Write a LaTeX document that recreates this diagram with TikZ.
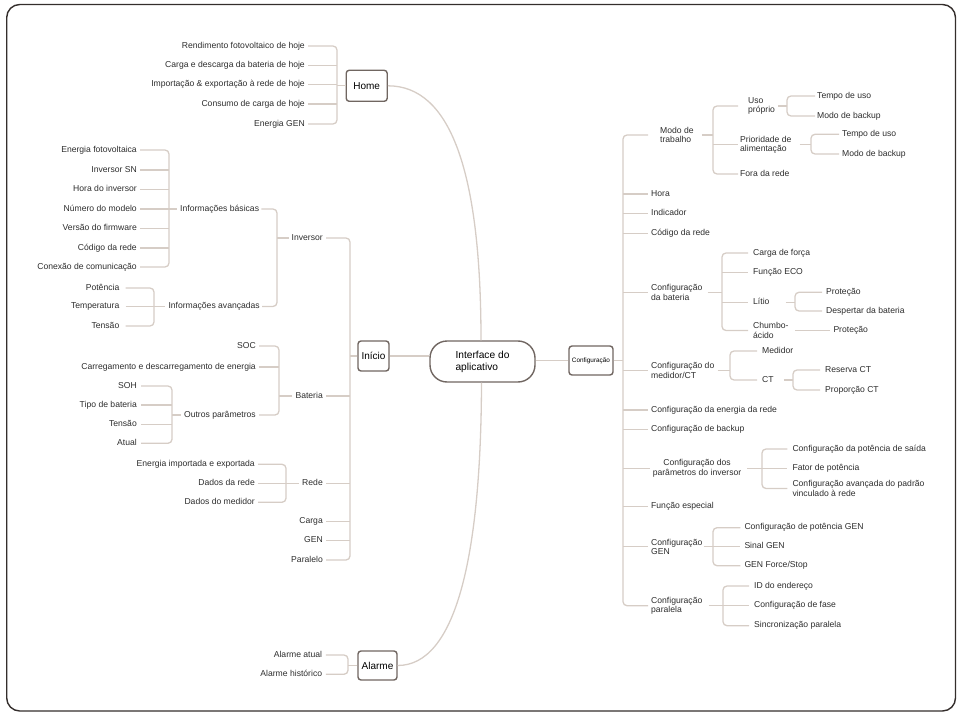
\documentclass[tikz,border=0pt]{standalone}
\usepackage{fontspec}
\setmainfont{Liberation Sans}
\usetikzlibrary{calc}
\definecolor{linec}{RGB}{214,205,198}
\definecolor{boxc}{RGB}{112,102,97}
\definecolor{txtc}{RGB}{45,45,45}
\definecolor{framec}{RGB}{52,46,44}
\newcommand\lblfont{\fontsize{8.6}{9.3}\selectfont}
\newcommand\boxfont{\fontsize{10}{12}\selectfont}
\begin{document}
\begin{tikzpicture}[x=1pt,y=-1pt,
  lblL/.style={anchor=east,inner sep=0pt,font=\lblfont,text=txtc,text height=6.2pt,text depth=1.8pt},
  lblR/.style={anchor=west,inner sep=0pt,font=\lblfont,text=txtc,text height=6.2pt,text depth=1.8pt},
  lblM/.style={anchor=west,inner sep=0pt,font=\lblfont,text=txtc,align=left},
  topbox/.style={draw=boxc,line width=1.4pt,rounded corners=3pt,inner sep=0pt,font=\boxfont,text=black},
  ln/.style={draw=linec,line width=1.3pt,rounded corners=4pt},
  curveln/.style={draw=linec,line width=1.3pt}]

\useasboundingbox (0,0) rectangle (962,717);
\draw[framec,line width=1.4pt,rounded corners=13pt] (6.7,4.5) rectangle (955.5,711);

% ---------- main boxes ----------
\node[topbox,minimum width=41pt,minimum height=31pt] (home) at (366.7,85.8) {Home};
\node[topbox,minimum width=31pt,minimum height=30pt] (ini) at (373.5,356) {Início};
\node[topbox,minimum width=39pt,minimum height=29pt] (alarme) at (377.5,665.5) {Alarme};
\node[draw=boxc,line width=1.4pt,rounded corners=17pt,minimum width=105pt,minimum height=41pt,
      align=left,font=\fontsize{10.2}{12}\selectfont,text=black] (ctr) at (482.5,361.5) {Interface do\\aplicativo};
\node[topbox,minimum width=44pt,minimum height=29pt,font=\fontsize{6.4}{8}\selectfont] (cfg) at (591,360.5) {Configuração};

\draw[curveln] (home.east) .. controls (450,85.8) and (481,170) .. ([xshift=-1.5pt]ctr.north);
\draw[curveln] (alarme.east) .. controls (455,665.5) and (481,560) .. ([xshift=-1pt]ctr.south);
\draw[ln] (ini.east) -- (ini.east -| ctr.west);
\draw[ln] (cfg.west) -- (cfg.west -| ctr.east);

% ---------- Home ----------
\node[lblL] (h1) at (305,46) {Rendimento fotovoltaico de hoje};
\node[lblL] (h2) at (305,65.3) {Carga e descarga da bateria de hoje};
\node[lblL] (h3) at (305,84.7) {Importação \& exportação à rede de hoje};
\node[lblL] (h4) at (305,104) {Consumo de carga de hoje};
\node[lblL] (h5) at (305,124) {Energia GEN};
\coordinate (kH) at (337,0);
\draw[ln] ([xshift=3pt]h1.east) -| (kH |- home.west) |- ([xshift=3pt]h5.east);
\foreach \n in {h2,h3,h4} \draw[ln] ([xshift=3pt]\n.east) -- (\n.east -| kH);
\draw[ln] (home.west) -- (home.west -| kH);

% ---------- Inversor ----------
\node[lblL] (b1) at (137,150) {Energia fotovoltaica};
\node[lblL] (b2) at (137,170) {Inversor SN};
\node[lblL] (b3) at (137,189.5) {Hora do inversor};
\node[lblL] (b4) at (137,209) {Número do modelo};
\node[lblL] (b5) at (137,228.5) {Versão do firmware};
\node[lblL] (b6) at (137,248) {Código da rede};
\node[lblL] (b7) at (137,267) {Conexão de comunicação};
\node[lblR] (ib) at (180,209) {Informações básicas};
\coordinate (kB) at (169,0);
\draw[ln] ([xshift=3pt]b1.east) -| (kB |- ib.west) |- ([xshift=3pt]b7.east);
\foreach \n in {b2,b3,b5,b6} \draw[ln] ([xshift=3pt]\n.east) -- (\n.east -| kB);
\draw[ln] ([xshift=3pt]b4.east) -- ([xshift=-3pt]ib.west);

\node[lblL] (a1) at (119.5,288) {Potência};
\node[lblL] (a2) at (119.5,306.5) {Temperatura};
\node[lblL] (a3) at (119.5,326) {Tensão};
\node[lblR] (ia) at (168.3,306.5) {Informações avançadas};
\coordinate (kA) at (154,0);
\draw[ln] ([xshift=6pt]a1.east) -| (kA |- ia.west) |- ([xshift=6pt]a3.east);
\draw[ln] ([xshift=6pt]a2.east) -- ([xshift=-3pt]ia.west);

\node[lblL] (inv) at (323,238) {Inversor};
\coordinate (kI) at (277,0);
\draw[ln] ([xshift=2pt]ib.east) -| (kI |- inv.west) |- ([xshift=2pt]ia.east);
\draw[ln] ([xshift=-3pt]inv.west) -- (inv.west -| kI);

% ---------- Bateria ----------
\node[lblL] (soc) at (256,346) {SOC};
\node[lblL] (car) at (256,367) {Carregamento e descarregamento de energia};
\node[lblL] (op) at (256,415) {Outros parâmetros};
\node[lblL] (bat) at (323,396) {Bateria};
\coordinate (kBt) at (279,0);
\draw[ln] ([xshift=3pt]soc.east) -| (kBt |- bat.west) |- ([xshift=3pt]op.east);
\draw[ln] ([xshift=3pt]car.east) -- (car.east -| kBt);
\draw[ln] ([xshift=-3pt]bat.west) -- (bat.west -| kBt);

\node[lblL] (soh) at (137,386) {SOH};
\node[lblL] (tb) at (137,405) {Tipo de bateria};
\node[lblL] (ten) at (137,424.3) {Tensão};
\node[lblL] (atu) at (137,443.3) {Atual};
\coordinate (kO) at (172,0);
\draw[ln] ([xshift=4pt]soh.east) -| (kO |- op.west) |- ([xshift=4pt]atu.east);
\foreach \n in {tb,ten} \draw[ln] ([xshift=4pt]\n.east) -- (\n.east -| kO);
\draw[ln] ([xshift=-3pt]op.west) -- (op.west -| kO);

% ---------- Rede ----------
\node[lblL] (ei) at (255,464.3) {Energia importada e exportada};
\node[lblL] (dr) at (255,483.3) {Dados da rede};
\node[lblL] (dm) at (255,502.3) {Dados do medidor};
\node[lblL] (rede) at (323,483.3) {Rede};
\coordinate (kR) at (286,0);
\draw[ln] ([xshift=3pt]ei.east) -| (kR |- rede.west) |- ([xshift=3pt]dm.east);
\draw[ln] ([xshift=3pt]dr.east) -- ([xshift=-3pt]rede.west);

\node[lblL] (carga) at (323,521.7) {Carga};
\node[lblL] (gen) at (323,540.7) {GEN};
\node[lblL] (par) at (323,560) {Paralelo};

\coordinate (kBig) at (350,0);
\draw[ln] ([xshift=3pt]inv.east) -| (kBig |- ini.west) |- ([xshift=3pt]par.east);
\foreach \n in {bat,rede,carga,gen} \draw[ln] ([xshift=3pt]\n.east) -- (\n.east -| kBig);
\draw[ln] (ini.west) -- (ini.west -| kBig);

% ---------- Alarme ----------
\node[lblL] (aa) at (322.3,655) {Alarme atual};
\node[lblL] (ah) at (322.3,674.3) {Alarme histórico};
\coordinate (kAl) at (348,0);
\draw[ln] ([xshift=3.5pt]aa.east) -| (kAl |- alarme.west) |- ([xshift=3.5pt]ah.east);
\draw[ln] (alarme.west) -- (alarme.west -| kAl);

% ---------- Configuração ----------
\node[lblM] (mt) at (660,135) {Modo de\\trabalho};
\node[lblR] (hora) at (651,194) {Hora};
\node[lblR] (ind) at (651,213.3) {Indicador};
\node[lblR] (cod) at (651,233.3) {Código da rede};
\node[lblM] (cb) at (651,292.5) {Configuração\\da bateria};
\node[lblM] (cm) at (651,370.5) {Configuração do\\medidor/CT};
\node[lblR] (cer) at (651,410) {Configuração da energia da rede};
\node[lblR] (cbk) at (651,429.3) {Configuração de backup};
\node[anchor=center,inner sep=0pt,font=\lblfont,text=txtc,align=center] (cpi) at (697,468.3) {Configuração dos\\parâmetros do inversor};
\node[lblR] (fe) at (651,506.7) {Função especial};
\node[lblM] (cg) at (651,546.7) {Configuração\\GEN};
\node[lblM] (cp) at (651,605.7) {Configuração\\paralela};
\coordinate (kM) at (623,0);
\draw[ln] ([xshift=-12pt]mt.west) -| (kM |- cfg.east) |- ([xshift=-3pt]cp.west);
\foreach \n in {hora,ind,cod,cb,cm,cer,cbk,cpi,fe,cg} \draw[ln] (\n.west -| kM) -- ([xshift=-3pt]\n.west);
\draw[ln] (cfg.east) -- (cfg.east -| kM);

% Modo de trabalho
\node[lblM] (up) at (748,106) {Uso\\próprio};
\node[lblM] (pa) at (740,144.5) {Prioridade de\\alimentação};
\node[lblR] (fr) at (740,174) {Fora da rede};
\coordinate (kMT) at (713,0);
\draw[ln] ([xshift=-10pt]up.west) -| (kMT |- mt.east) |- ([xshift=-2pt]fr.west);
\draw[ln] (pa.west -| kMT) -- ([xshift=-2pt]pa.west);
\draw[ln] ([xshift=8pt]mt.east) -- (mt.east -| kMT);

\node[lblR] (tu1) at (817,96) {Tempo de uso};
\node[lblR] (mb1) at (817,116) {Modo de backup};
\coordinate (kUP) at (787,0);
\draw[ln] ([xshift=-2pt]tu1.west) -| (kUP |- up.east) |- ([xshift=-2pt]mb1.west);
\draw[ln] ([xshift=3pt]up.east) -- (up.east -| kUP);

\node[lblR] (tu2) at (842,134.3) {Tempo de uso};
\node[lblR] (mb2) at (842,154) {Modo de backup};
\coordinate (kPA) at (811,0);
\draw[ln] ([xshift=-3pt]tu2.west) -| (kPA |- pa.east) |- ([xshift=-3pt]mb2.west);
\draw[ln] ([xshift=8pt]pa.east) -- (pa.east -| kPA);

% Configuração da bateria
\node[lblR] (cf) at (753,253) {Carga de força};
\node[lblR] (eco) at (753,272.3) {Função ECO};
\node[lblR] (li) at (753,302.3) {Lítio};
\node[lblM] (ch) at (753,330.5) {Chumbo-\\ácido};
\coordinate (kCB) at (722,0);
\draw[ln] ([xshift=-5pt]cf.west) -| (kCB |- cb.east) |- ([xshift=-5pt]ch.west);
\foreach \n in {eco,li} \draw[ln] (\n.west -| kCB) -- ([xshift=-5pt]\n.west);
\draw[ln] ([xshift=5pt]cb.east) -- (cb.east -| kCB);

\node[lblR] (pr1) at (826,292.3) {Proteção};
\node[lblR] (dp) at (826,311) {Despertar da bateria};
\coordinate (kLI) at (795,0);
\draw[ln] ([xshift=-4pt]pr1.west) -| (kLI |- li.east) |- ([xshift=-4pt]dp.west);
\draw[ln] ([xshift=16pt]li.east) -- (li.east -| kLI);

\node[lblR] (pr2) at (833.3,330.5) {Proteção};
\draw[ln] ([xshift=6pt]ch.east) -- ([xshift=-3pt]pr2.west);

% Medidor/CT
\node[lblR] (med) at (762,351) {Medidor};
\node[lblR] (ct) at (762,380) {CT};
\coordinate (kCM) at (730,0);
\draw[ln] ([xshift=-5pt]med.west) -| (kCM |- cm.east) |- ([xshift=-5pt]ct.west);
\draw[ln] ([xshift=3pt]cm.east) -- (cm.east -| kCM);

\node[lblR] (rct) at (825,370) {Reserva CT};
\node[lblR] (pct) at (825,390) {Proporção CT};
\coordinate (kCT) at (793,0);
\draw[ln] ([xshift=-5pt]rct.west) -| (kCT |- ct.east) |- ([xshift=-5pt]pct.west);
\draw[ln] ([xshift=10pt]ct.east) -- (ct.east -| kCT);

% Parâmetros do inversor
\node[lblR] (pot) at (792.3,449) {Configuração da potência de saída};
\node[lblR] (fp) at (792.3,468.3) {Fator de potência};
\node[lblM] (cap) at (792.3,488.5) {Configuração avançada do padrão\\vinculado à rede};
\coordinate (kCPI) at (762,0);
\draw[ln] ([xshift=-5pt]pot.west) -| (kCPI |- cpi.east) |- ([xshift=-5pt]cap.west);
\draw[ln] ([xshift=6pt]cpi.east) -- ([xshift=-5pt]fp.west);

% GEN
\node[lblR] (cpg) at (744.3,527.7) {Configuração de potência GEN};
\node[lblR] (sg) at (744.3,546.7) {Sinal GEN};
\node[lblR] (gfs) at (744.3,565.7) {GEN Force/Stop};
\coordinate (kCG) at (713,0);
\draw[ln] ([xshift=-4pt]cpg.west) -| (kCG |- cg.east) |- ([xshift=-4pt]gfs.west);
\draw[ln] ([xshift=1pt]cg.east) -- ([xshift=-4pt]sg.west);

% Paralela
\node[lblR] (ide) at (754,586) {ID do endereço};
\node[lblR] (cfa) at (754,605.7) {Configuração de fase};
\node[lblR] (spar) at (754,625.7) {Sincronização paralela};
\coordinate (kCP) at (723,0);
\draw[ln] ([xshift=-5pt]ide.west) -| (kCP |- cp.east) |- ([xshift=-5pt]spar.west);
\draw[ln] ([xshift=6pt]cp.east) -- ([xshift=-5pt]cfa.west);
\end{tikzpicture}
\end{document}
